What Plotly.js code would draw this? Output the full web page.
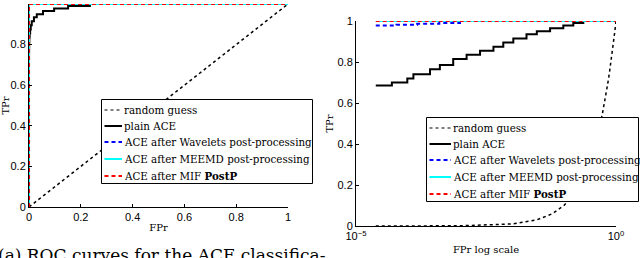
<!DOCTYPE html>
<html><head><meta charset="utf-8">
<script src="https://cdn.plot.ly/plotly-3.0.1.min.js"></script>
<style>html,body{margin:0;padding:0;background:#fff}#c{width:640px;height:258px}</style>
</head><body><div id="c"></div>
<script>
// Data
const fprRandom = [0, 2.4e-5, 1e-4, 1e-3, 0.01, 0.03, 0.06, 0.1, 0.15, 0.2, 0.25, 0.3, 0.35, 0.4, 0.45, 0.5, 0.55, 0.6, 0.65, 0.7, 0.75, 0.8, 0.85, 0.9, 0.95, 1];
const tprRandom = [0, 2.4e-5, 1e-4, 1e-3, 0.01, 0.03, 0.06, 0.1, 0.15, 0.2, 0.25, 0.3, 0.35, 0.4, 0.45, 0.5, 0.55, 0.6, 0.65, 0.7, 0.75, 0.8, 0.85, 0.9, 0.95, 1];
const fprAce = [0, 2.4e-5, 4.9e-5, 9.7e-5, 1.27e-4, 2.65e-4, 4.1e-4, 7.4e-4, 1.34e-3, 2.43e-3, 4.4e-3, 6.8e-3, 0.0106, 0.019, 0.030, 0.054, 0.097, 0.151, 0.235, 1];
const tprAce = [0, 0.685, 0.70, 0.72, 0.74, 0.765, 0.785, 0.815, 0.835, 0.855, 0.875, 0.895, 0.915, 0.935, 0.95, 0.965, 0.978, 0.99, 1.0, 1.0];
const fprWav = [0, 2.4e-5, 6e-5, 1.5e-4, 4e-4, 1e-3, 1];
const tprWav = [0, 0.978, 0.982, 0.986, 0.99, 1.0, 1.0];
const fprMeemd = [0, 2.4e-5, 1];
const tprMeemd = [0, 1, 1];
const fprMif = [0, 2.4e-5, 1];
const tprMif = [0, 1, 1];
const names = ['random guess', 'plain ACE', 'ACE after Wavelets post-processing', 'ACE after MEEMD post-processing', 'ACE after MIF <b>PostP</b>'];
const xTickVals = [0, 0.2, 0.4, 0.6, 0.8, 1];
const yTickVals = [0, 0.2, 0.4, 0.6, 0.8, 1];
const logTickVals = [1e-5, 1];
const logTickText = ['10<sup>\u22125</sup>', '10<sup>0</sup>'];
const caption = '(a) ROC curves for the ACE classifica-';

const W = 640, H = 258;
const px = v => v / W, py = v => 1 - v / H;

const series = [
  {x: fprRandom, y: tprRandom, line: {color: '#000', width: 1.5, dash: 'dot'}, shape: 'linear', sw: 1.2},
  {x: fprAce, y: tprAce, line: {color: '#000', width: 2}, shape: 'hv', sw: 2},
  {x: fprWav, y: tprWav, line: {color: '#0000ff', width: 2, dash: '4px,3px'}, shape: 'hv', sw: 2},
  {x: fprMeemd, y: tprMeemd, line: {color: '#00ffff', width: 2}, shape: 'hv', sw: 2},
  {x: fprMif, y: tprMif, line: {color: '#ff0000', width: 2, dash: '4px,3px'}, shape: 'hv', sw: 2}
];
const traces = [];
series.forEach((s, i) => {
  traces.push({type: 'scatter', mode: 'lines', x: s.x, y: s.y, name: names[i], cliponaxis: false, showlegend: false,
    line: Object.assign({shape: s.shape}, s.line), xaxis: 'x', yaxis: 'y'});
});
series.forEach((s, i) => {
  // log axis: the FPr = 0 point cannot be shown
  traces.push({type: 'scatter', mode: 'lines', x: s.x.slice(1), y: s.y.slice(1), name: names[i], cliponaxis: false, showlegend: false,
    line: Object.assign({shape: s.shape}, s.line), xaxis: 'x2', yaxis: 'y2'});
});

const SERIF = '"DejaVu Serif", serif';
const tickFont = {family: 'Liberation Sans, Arial, sans-serif', size: 11, color: '#000'};
const serif = {family: SERIF, size: 10, color: '#000'};
const legFont = {family: SERIF, size: 10.3, color: '#000'};
const axBase = {showline: true, linecolor: '#000', linewidth: 1, ticks: 'inside', ticklen: 3,
  tickcolor: '#000', showgrid: false, zeroline: false, tickfont: tickFont, mirror: false, automargin: false};

// hand-drawn legends (MATLAB style, compact)
const shapes = [], annotations = [];
function legendBox(x0, y0, x1, y1, rows, sampleEnd) {
  shapes.push({type: 'rect', xref: 'paper', yref: 'paper', x0: px(x0), x1: px(x1), y0: py(y0), y1: py(y1),
    line: {color: '#000', width: 1}, fillcolor: '#fff', layer: 'above'});
  series.forEach((s, i) => {
    const yc = rows[i];
    shapes.push({type: 'line', xref: 'paper', yref: 'paper', x0: px(x0 + 3), x1: px(sampleEnd), y0: py(yc), y1: py(yc),
      line: {color: s.line.color, width: s.sw, dash: s.line.dash || 'solid'}, layer: 'above'});
    annotations.push({text: names[i], xref: 'paper', yref: 'paper', x: px(sampleEnd), y: py(yc), xanchor: 'left', yanchor: 'middle',
      showarrow: false, font: legFont});
  });
}
legendBox(101.5, 99.5, 312.5, 183.5, [110, 126, 142, 159, 176], 122);
legendBox(426.5, 117.5, 638.5, 201.5, [128, 144, 160, 177, 194], 451);

annotations.push({text: caption, xref: 'paper', yref: 'paper', x: px(-4), y: py(243), xanchor: 'left', yanchor: 'top',
  showarrow: false, font: {family: SERIF, size: 17, color: '#000'}});

const layout = {
  width: W, height: H, margin: {l: 0, r: 0, t: 0, b: 0},
  paper_bgcolor: '#fff', plot_bgcolor: 'rgba(0,0,0,0)', showlegend: false,
  xaxis: Object.assign({}, axBase, {domain: [px(29), px(288)], range: [0, 1], tickvals: xTickVals, ticktext: xTickVals.map(String),
    title: {text: 'FPr', font: serif, standoff: 1}, anchor: 'y'}),
  yaxis: Object.assign({}, axBase, {domain: [py(207), py(4)], range: [0, 1], tickvals: yTickVals, ticktext: yTickVals.map(String),
    title: {text: 'TPr', font: serif, standoff: 2}, anchor: 'x'}),
  xaxis2: Object.assign({}, axBase, {domain: [px(356), px(616)], type: 'log', range: [-5, 0], tickvals: logTickVals, ticktext: logTickText,
    title: {text: 'FPr log scale', font: serif, standoff: 4}, anchor: 'y2'}),
  yaxis2: Object.assign({}, axBase, {domain: [py(226), py(21)], range: [0, 1], tickvals: yTickVals, ticktext: yTickVals.map(String),
    title: {text: 'TPr', font: serif, standoff: 2}, anchor: 'x2'}),
  shapes: shapes,
  annotations: annotations
};
Plotly.newPlot('c', traces, layout, {staticPlot: true, displayModeBar: false});
</script></body></html>
